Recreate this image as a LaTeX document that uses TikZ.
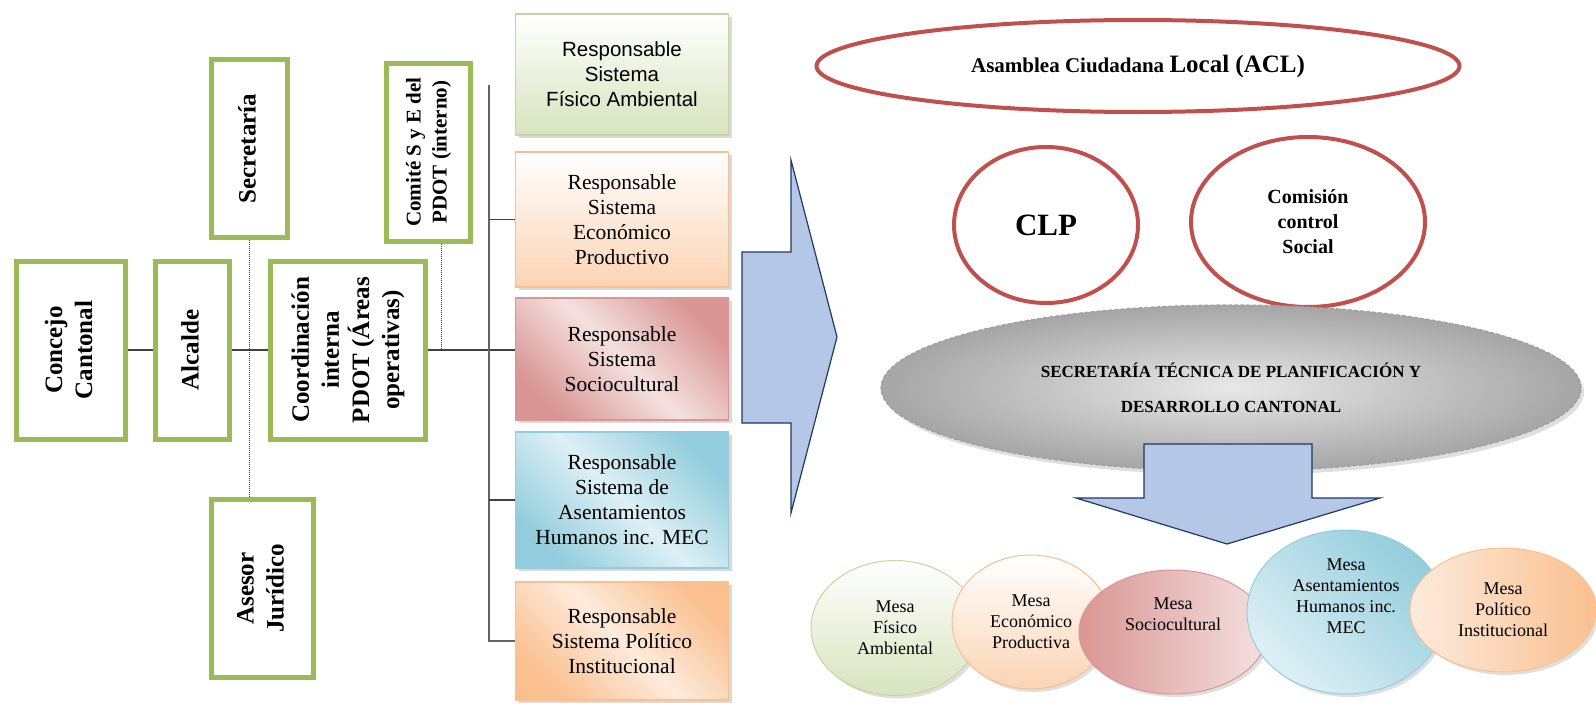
\documentclass[tikz,border=0pt]{standalone}
\usepackage{fontspec}
\setmainfont{Liberation Serif}
\newfontfamily\arialfont{Liberation Sans}
\usepackage{tikz}
\usetikzlibrary{shapes.geometric,shadows,calc}
\usepackage{xcolor}
\definecolor{orggreen}{RGB}{155,187,89}
\definecolor{orggray}{RGB}{64,64,64}
\definecolor{busgray}{RGB}{100,100,100}
\definecolor{aclred}{RGB}{192,80,77}
\definecolor{arrowblue}{RGB}{180,199,231}
\definecolor{arrownavy}{RGB}{32,56,100}
\definecolor{fisgreen}{RGB}{215,228,189}
\definecolor{fisedge}{RGB}{195,214,155}
\definecolor{ecoorange}{RGB}{251,212,180}
\definecolor{ecoedge}{RGB}{249,190,143}
\definecolor{socred}{RGB}{217,150,148}
\definecolor{soclight}{RGB}{244,225,224}
\definecolor{asblue}{RGB}{147,205,221}
\definecolor{aslight}{RGB}{222,240,245}
\definecolor{polorange}{RGB}{250,192,144}
\definecolor{pollight}{RGB}{253,235,220}
\newcommand{\vlabel}[1]{\rotatebox{90}{\begin{tabular}{@{}c@{}}#1\end{tabular}}}
\tikzset{
    gbox/.style={draw=orggreen, line width=5pt, fill=white, inner sep=0pt,
                 minimum width=#1, minimum height=178pt,
                 font=\bfseries\fontsize{25}{30}\selectfont},
    rbox/.style={draw=#1, line width=1.2pt, inner sep=0pt, align=center,
                 minimum width=213pt,
                 drop shadow={shadow xshift=3pt, shadow yshift=-3pt, opacity=0.3},
                 font=\fontsize{21.5}{25}\selectfont},
    redoval/.style={ellipse, draw=aclred, line width=4pt, fill=white,
                    inner sep=0pt, align=center, font=\bfseries},
    mesa/.style={ellipse, draw=#1, line width=1pt, inner sep=0pt, align=center,
                 drop shadow={shadow xshift=3pt, shadow yshift=-3pt, opacity=0.25},
                 font=\fontsize{18}{21}\selectfont},
    orgline/.style={draw=orggray, line width=1.5pt},
    busline/.style={draw=busgray, line width=2pt},
    dotline/.style={draw=orggray, line width=1pt, densely dotted},
    bigarrow/.style={fill=arrowblue, draw=arrownavy, line width=1.2pt, line join=miter},
}
\begin{document}
\begin{tikzpicture}[x=1pt, y=-1pt]
    \useasboundingbox (0,0) rectangle (1596,712);

    \node[gbox=109pt] (concejo) at (71,350) {\vlabel{Concejo\\Cantonal}};
    \node[gbox=74pt] (alcalde) at (192.5,350) {\vlabel{Alcalde}};
    \node[gbox=155pt] (coord) at (348,350) {\vlabel{Coordinación\\interna\\PDOT (Áreas\\operativas)}};
    \node[gbox=76pt] (secre) at (249.5,148.5) {\vlabel{Secretaría}};
    \node[gbox=84pt, font=\bfseries\fontsize{21}{26}\selectfont] (comite) at (428.5,152)
        {\vlabel{Comité S y E del\\PDOT (interno)}};
    \node[gbox=102pt] (asesor) at (262.5,588.5) {\vlabel{Asesor\\Jurídico}};

    \node[rbox=fisedge, minimum height=121pt, top color=white, bottom color=fisgreen,
          font=\arialfont\fontsize{20.5}{25}\selectfont] (fis) at (622,74.5)
        {Responsable\\Sistema\\Físico Ambiental};
    \node[rbox=ecoedge, minimum height=135pt, top color=white, bottom color=ecoorange] (eco) at (622,219.5)
        {Responsable\\Sistema\\Económico\\Productivo};
    \node[rbox=socred, minimum height=122pt, top color=socred, bottom color=socred,
          middle color=soclight, shading angle=-45] (soc) at (622,359)
        {Responsable\\Sistema\\Sociocultural};
    \node[rbox=asblue, minimum height=136pt, top color=asblue, bottom color=asblue,
          middle color=aslight, shading angle=-45] (ase) at (622,500)
        {Responsable\\Sistema de\\Asentamientos\\Humanos inc. MEC};
    \node[rbox=polorange, minimum height=118pt, top color=polorange, bottom color=polorange,
          middle color=pollight, shading angle=-45] (pol) at (622,641)
        {Responsable\\Sistema Político\\Institucional};

    \coordinate (bustop) at (489,85);
    \draw[orgline] (concejo) -- (alcalde);
    \draw[orgline] (alcalde) -- (coord);
    \draw[orgline] (coord.east) -- (coord.east -| soc.west);
    \draw[busline] (bustop) |- (pol.west);
    \draw[orgline] (bustop |- eco.west) -- (eco.west);
    \draw[orgline] (bustop |- ase.west) -- (ase.west);
    \draw[dotline] (secre.south) -- (secre.south |- asesor.north);
    \draw[dotline] ([xshift=13pt]comite.south) -- ([xshift=13pt]comite.south |- coord.east);

    \draw[bigarrow] (742,252) -- (791,252) -- (791,160) -- (837,337) -- (791,513)
        -- (791,423) -- (742,423) -- cycle;

    \node[redoval, minimum width=643pt, minimum height=92pt, font=\bfseries\fontsize{25}{30}\selectfont] (acl) at (1138,66)
        {{\fontsize{21}{25}\selectfont Asamblea Ciudadana }Local (ACL)};
    \node[redoval, minimum width=184pt, minimum height=156pt, font=\bfseries\fontsize{31}{36}\selectfont] (clp) at (1046,225) {CLP};
    \node[redoval, minimum width=234pt, minimum height=170pt, font=\bfseries\fontsize{20}{25}\selectfont] (csocial) at (1308,222)
        {Comisión\\control\\Social};
    \node[ellipse, draw=gray!75, line width=1.2pt, dash pattern=on 4pt off 2pt,
          inner color=gray!18, outer color=gray!70, inner sep=0pt, align=center,
          minimum width=700pt, minimum height=166pt,
          drop shadow={shadow xshift=3pt, shadow yshift=-4pt, opacity=0.25},
          font=\bfseries\fontsize{17}{35}\selectfont] (stpd) at (1231,388)
        {SECRETARÍA TÉCNICA DE PLANIFICACIÓN Y\\DESARROLLO CANTONAL};

    \draw[bigarrow] (1144,444) -- (1312,444) -- (1312,498) -- (1380,498) -- (1227,544)
        -- (1076,498) -- (1144,498) -- cycle;

    \node[mesa=fisedge, minimum width=168pt, minimum height=135pt, top color=white, bottom color=fisgreen] (mfis) at (895,628)
        {Mesa\\Físico\\Ambiental};
    \node[mesa=ecoedge, minimum width=158pt, minimum height=134pt, top color=white, bottom color=ecoorange] (meco) at (1031,622)
        {Mesa\\Económico\\Productiva};
    \node[mesa=socred, minimum width=188pt, minimum height=124pt, left color=socred, right color=soclight] (msoc) at (1173,632)
        {Mesa\\Sociocultural\\[14pt]};
    \node[mesa=asblue, minimum width=198pt, minimum height=164pt, top color=asblue, bottom color=aslight,
          shading angle=-45] (mase) at (1346,612)
        {Mesa\\Asentamientos\\Humanos inc.\\MEC\\[10pt]};
    \node[mesa=polorange, minimum width=186pt, minimum height=124pt, left color=pollight, right color=polorange] (mpol) at (1503,610)
        {Mesa\\Político\\Institucional};
\end{tikzpicture}
\end{document}
